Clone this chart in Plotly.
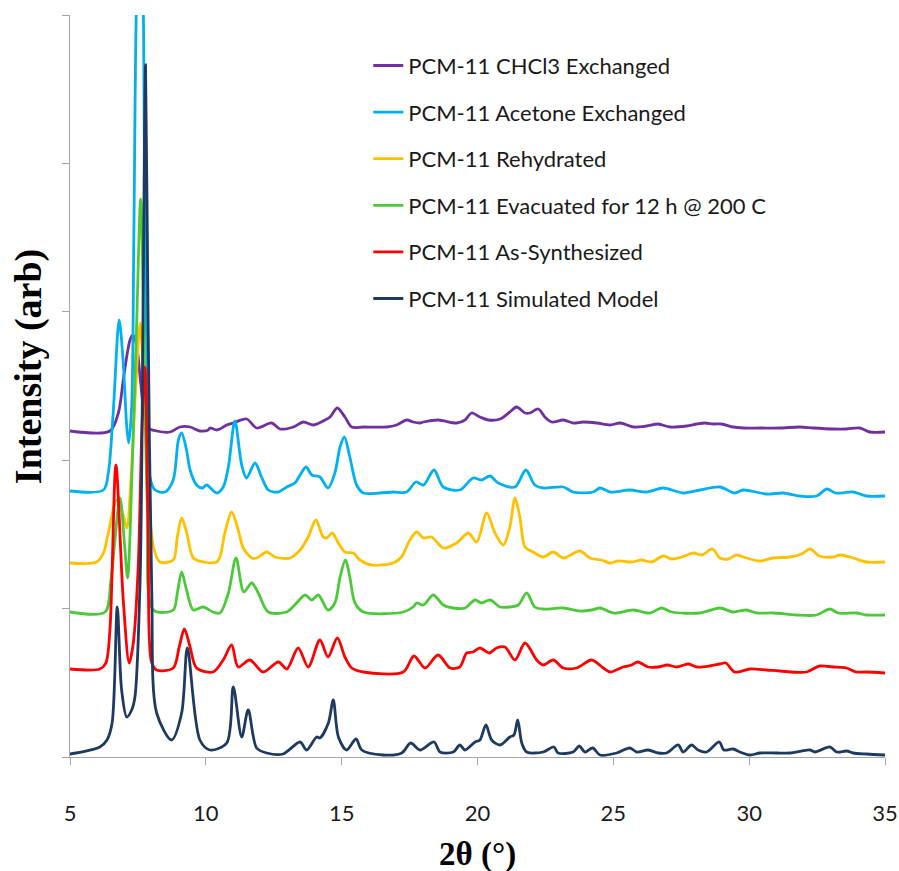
import plotly.graph_objects as go

# Powder XRD patterns of PCM-11, stacked with vertical offsets (arbitrary intensity units)
# Each list holds (2-theta in degrees, offset intensity) pairs.

chcl3_exchanged = [
    (5.0, 326), (6.47, 326), (6.78, 344), (6.96, 377), (7.11, 404), (7.21, 417), (7.31, 422),
    (7.45, 412), (7.58, 380), (7.70, 350), (7.88, 329), (8.19, 326), (8.68, 325), (9.05, 330),
    (9.42, 330), (9.78, 326), (10.09, 327), (10.15, 329), (10.40, 327), (10.52, 328), (10.77, 332),
    (11.01, 334), (11.50, 338), (11.87, 329), (12.42, 334), (12.73, 328), (13.22, 330), (13.59, 335),
    (13.96, 332), (14.39, 337), (14.57, 340), (14.84, 349), (15.12, 340), (15.37, 330), (15.80, 330),
    (16.66, 330), (17.02, 332), (17.39, 337), (17.63, 335), (17.88, 334), (18.01, 335), (18.55, 337),
    (19.23, 334), (19.54, 337), (19.78, 344), (20.09, 340), (20.40, 337), (20.83, 338), (21.19, 345),
    (21.44, 350), (21.75, 344), (21.93, 344), (22.24, 348), (22.48, 340), (22.73, 335), (23.16, 337),
    (23.52, 334), (23.89, 335), (24.39, 334), (24.88, 332), (25.25, 334), (25.74, 330), (26.22, 331),
    (26.65, 333), (27.08, 330), (27.70, 331), (28.07, 333), (28.37, 334), (28.68, 333), (28.98, 333),
    (29.41, 330), (29.78, 329), (30.40, 329), (31.13, 329), (31.87, 330), (32.36, 329), (33.09, 328),
    (33.58, 328), (34.07, 329), (34.44, 325), (35.0, 325),
]

acetone_exchanged = [
    (5.0, 266), (6.23, 267), (6.41, 284), (6.59, 344), (6.81, 437), (6.96, 394), (7.09, 330),
    (7.16, 314), (7.27, 350), (7.35, 520), (7.45, 760), (7.55, 820), (7.65, 800), (7.75, 560),
    (7.85, 360), (7.94, 280), (8.13, 267), (8.50, 265), (8.80, 277), (8.99, 317), (9.11, 324),
    (9.29, 307), (9.42, 287), (9.66, 272), (9.88, 269), (10.03, 272), (10.40, 264), (10.64, 270),
    (10.83, 290), (11.07, 336), (11.32, 292), (11.50, 279), (11.81, 294), (12.05, 280), (12.30, 267),
    (12.67, 265), (12.98, 270), (13.28, 274), (13.47, 282), (13.69, 290), (13.90, 282), (14.20, 280),
    (14.50, 269), (14.75, 284), (14.94, 310), (15.10, 320), (15.30, 300), (15.55, 272), (15.80, 264),
    (16.41, 264), (16.90, 265), (17.39, 265), (17.73, 275), (18.01, 272), (18.40, 287), (18.74, 270),
    (19.35, 267), (19.84, 279), (20.15, 277), (20.46, 281), (20.76, 274), (21.38, 270), (21.78, 287),
    (22.11, 272), (22.42, 269), (23.16, 270), (23.52, 265), (24.26, 265), (24.51, 269), (24.88, 265),
    (25.61, 267), (26.22, 265), (26.84, 269), (27.57, 264), (28.19, 267), (28.92, 270), (29.47, 264),
    (29.78, 267), (30.64, 263), (31.25, 264), (31.87, 261), (32.48, 261), (32.86, 268), (33.17, 264),
    (33.83, 265), (34.32, 261), (35.0, 261),
]

rehydrated = [
    (5.0, 194), (5.98, 195), (6.23, 204), (6.41, 224), (6.72, 257), (6.94, 244), (7.09, 229),
    (7.25, 280), (7.42, 370), (7.58, 434), (7.72, 370), (7.90, 260), (8.07, 210), (8.31, 195),
    (8.80, 197), (8.95, 220), (9.11, 239), (9.29, 225), (9.54, 199), (9.91, 195), (10.40, 195),
    (10.52, 200), (10.70, 224), (10.95, 245), (11.19, 227), (11.38, 209), (11.69, 199), (11.87, 199),
    (12.24, 205), (12.55, 200), (13.10, 199), (13.47, 207), (13.77, 220), (14.05, 237), (14.32, 220),
    (14.45, 219), (14.65, 224), (14.88, 214), (15.12, 205), (15.43, 204), (15.67, 197), (16.10, 192),
    (16.90, 194), (17.20, 200), (17.51, 217), (17.76, 225), (18.01, 219), (18.31, 220), (18.74, 209),
    (19.23, 214), (19.66, 224), (19.97, 215), (20.34, 244), (20.64, 224), (20.95, 212), (21.19, 230),
    (21.38, 259), (21.56, 240), (21.75, 210), (22.05, 205), (22.42, 200), (22.79, 205), (23.16, 199),
    (23.77, 206), (24.14, 199), (24.57, 197), (24.88, 194), (25.18, 196), (25.67, 195), (26.04, 197),
    (26.40, 195), (26.84, 201), (27.15, 198), (27.52, 200), (27.95, 204), (28.25, 202), (28.65, 208),
    (28.92, 199), (29.23, 198), (29.53, 202), (29.90, 199), (30.40, 196), (30.88, 199), (31.50, 200),
    (31.93, 203), (32.24, 208), (32.59, 201), (33.09, 200), (33.35, 202), (33.83, 199), (34.32, 195),
    (35.0, 195),
]

evacuated = [
    (5.0, 145), (6.29, 145), (6.50, 175), (6.84, 259), (7.00, 215), (7.12, 179), (7.30, 300),
    (7.45, 430), (7.60, 558), (7.72, 420), (7.85, 250), (8.07, 147), (8.80, 147), (8.95, 164),
    (9.11, 185), (9.29, 167), (9.54, 147), (9.90, 150), (10.27, 145), (10.52, 144), (10.83, 164),
    (11.11, 199), (11.40, 165), (11.69, 174), (11.93, 164), (12.30, 145), (12.97, 145), (13.34, 154),
    (13.65, 162), (13.90, 157), (14.14, 162), (14.50, 147), (14.75, 154), (14.94, 180), (15.14, 197),
    (15.30, 180), (15.49, 154), (15.80, 145), (17.27, 145), (17.63, 150), (17.76, 154), (18.01, 152),
    (18.37, 162), (18.74, 152), (19.11, 149), (19.54, 149), (19.91, 157), (20.15, 154), (20.46, 157),
    (20.83, 150), (21.19, 150), (21.50, 152), (21.81, 164), (22.11, 150), (22.42, 148), (23.16, 149),
    (23.77, 146), (24.20, 147), (24.51, 149), (25.00, 144), (25.74, 147), (26.35, 144), (26.78, 149),
    (27.15, 145), (28.19, 144), (28.92, 149), (29.41, 145), (29.90, 147), (30.27, 144), (30.88, 144),
    (31.74, 142), (32.48, 142), (32.97, 148), (33.28, 144), (33.95, 144), (34.32, 142), (35.0, 142),
]

as_synthesized = [
    (5.0, 88), (6.10, 88), (6.32, 94), (6.47, 127), (6.69, 292), (6.96, 157), (7.18, 94),
    (7.33, 114), (7.51, 190), (7.65, 330), (7.76, 390), (7.88, 220), (8.00, 95), (8.19, 87),
    (8.80, 89), (9.02, 110), (9.21, 128), (9.42, 110), (9.66, 89), (10.27, 85), (10.64, 97),
    (10.95, 112), (11.19, 90), (11.62, 97), (12.11, 85), (12.67, 95), (12.98, 88), (13.40, 109),
    (13.77, 90), (14.20, 117), (14.50, 100), (14.84, 119), (15.12, 100), (15.37, 89), (15.80, 85),
    (17.27, 85), (17.66, 101), (18.07, 89), (18.55, 102), (18.99, 89), (19.35, 90), (19.60, 104),
    (19.84, 105), (20.09, 109), (20.43, 104), (20.70, 109), (21.01, 110), (21.38, 97), (21.75, 114),
    (22.18, 97), (22.42, 92), (22.79, 97), (23.16, 89), (23.65, 89), (24.20, 97), (24.63, 89),
    (24.88, 85), (25.36, 90), (25.67, 92), (25.90, 95), (26.28, 90), (26.65, 90), (26.99, 92),
    (27.33, 90), (27.76, 93), (28.07, 90), (28.55, 91), (28.92, 93), (29.14, 94), (29.47, 85),
    (30.03, 88), (30.64, 87), (31.13, 86), (32.11, 85), (32.59, 91), (33.09, 90), (33.58, 89),
    (33.94, 85), (34.32, 85), (35.0, 84),
]

simulated_model = [
    (5.0, 3), (6.10, 10), (6.36, 17), (6.55, 34), (6.74, 150), (6.90, 67), (7.09, 40), (7.27, 47),
    (7.39, 60), (7.58, 177), (7.69, 450), (7.78, 692), (7.87, 450), (8.01, 164), (8.19, 44),
    (8.74, 17), (9.11, 44), (9.32, 109), (9.78, 17), (10.15, 7), (10.77, 14), (11.01, 70),
    (11.32, 20), (11.56, 47), (11.87, 9), (12.24, 4), (12.84, 3), (13.47, 15), (13.71, 7),
    (14.08, 20), (14.20, 19), (14.51, 34), (14.69, 57), (14.88, 20), (15.18, 7), (15.53, 18),
    (15.74, 7), (16.53, 2), (17.21, 4), (17.54, 14), (17.88, 7), (18.40, 15), (18.62, 5),
    (19.11, 5), (19.35, 12), (19.54, 7), (19.91, 15), (20.09, 17), (20.31, 32), (20.52, 17),
    (20.83, 12), (21.19, 20), (21.34, 22), (21.48, 37), (21.63, 14), (21.81, 5), (22.42, 5),
    (22.81, 10), (22.97, 4), (23.52, 5), (23.75, 11), (23.95, 5), (24.24, 9), (24.51, 2),
    (25.12, 4), (25.61, 9), (25.86, 5), (26.28, 7), (26.65, 4), (26.96, 4), (27.39, 12),
    (27.57, 5), (27.88, 12), (28.12, 7), (28.43, 5), (28.90, 15), (29.07, 7), (29.41, 8),
    (29.66, 5), (30.03, 2), (30.40, 4), (31.01, 4), (31.50, 4), (32.24, 7), (32.42, 5),
    (32.97, 10), (33.22, 5), (33.59, 6), (33.83, 4), (34.32, 3), (35.0, 2),
]

series_names = [
    "PCM-11 CHCl3 Exchanged",
    "PCM-11 Acetone Exchanged",
    "PCM-11 Rehydrated",
    "PCM-11 Evacuated for 12 h @ 200 C",
    "PCM-11 As-Synthesized",
    "PCM-11 Simulated Model",
]
series_data = [chcl3_exchanged, acetone_exchanged, rehydrated, evacuated, as_synthesized, simulated_model]
series_colors = ["#7030A0", "#00B0F0", "#FFC000", "#4CC83A", "#FF0000", "#1F3A60"]

x_ticks = [5, 10, 15, 20, 25, 30, 35]

fig = go.Figure()
for name, data, color in zip(series_names, series_data, series_colors):
    fig.add_trace(go.Scatter(
        x=[p[0] for p in data],
        y=[p[1] for p in data],
        mode="lines",
        name=name,
        legendgroup=name,
        line=dict(color=color, width=2.8, shape="spline", smoothing=0.85),
    ))

axis_grey = "#A6A6A6"
fig.update_layout(
    width=899,
    height=871,
    margin=dict(l=70, r=14, t=15, b=114),
    paper_bgcolor="white",
    plot_bgcolor="white",
    showlegend=True,
    legend=dict(
        x=0.366, y=0.960, xanchor="left", yanchor="top",
        font=dict(family="Lato", size=22, color="#1a1a1a"),
        tracegroupgap=15,
        bgcolor="rgba(0,0,0,0)",
    ),
    xaxis=dict(
        range=[5, 35],
        automargin=False,
        tickmode="array",
        tickvals=x_ticks,
        ticktext=[str(t) for t in x_ticks],
        ticks="outside",
        ticklen=7,
        tickcolor=axis_grey,
        showline=True,
        linecolor=axis_grey,
        linewidth=1.3,
        showgrid=False,
        zeroline=False,
        tickfont=dict(family="Lato", size=22, color="#1a1a1a"),
        ticklabelstandoff=29,
    ),
    yaxis=dict(
        range=[0, 742],
        automargin=False,
        tick0=0,
        dtick=148.4,
        ticks="outside",
        ticklen=7,
        tickcolor=axis_grey,
        showticklabels=False,
        showline=True,
        linecolor=axis_grey,
        linewidth=1.3,
        showgrid=False,
        zeroline=False,
    ),
    annotations=[
        dict(
            text="<b>Intensity (arb)</b>",
            xref="paper", yref="paper",
            x=-0.051, y=0.526, xanchor="center", yanchor="middle",
            textangle=-90, showarrow=False,
            font=dict(family="Liberation Serif", size=38, color="black"),
        ),
        dict(
            text="<b>2θ (°)</b>",
            xref="paper", yref="paper",
            x=0.5, y=-0.131, xanchor="center", yanchor="middle",
            showarrow=False,
            font=dict(family="Liberation Serif", size=33, color="black"),
        ),
    ],
)

fig.write_html("out.html")
